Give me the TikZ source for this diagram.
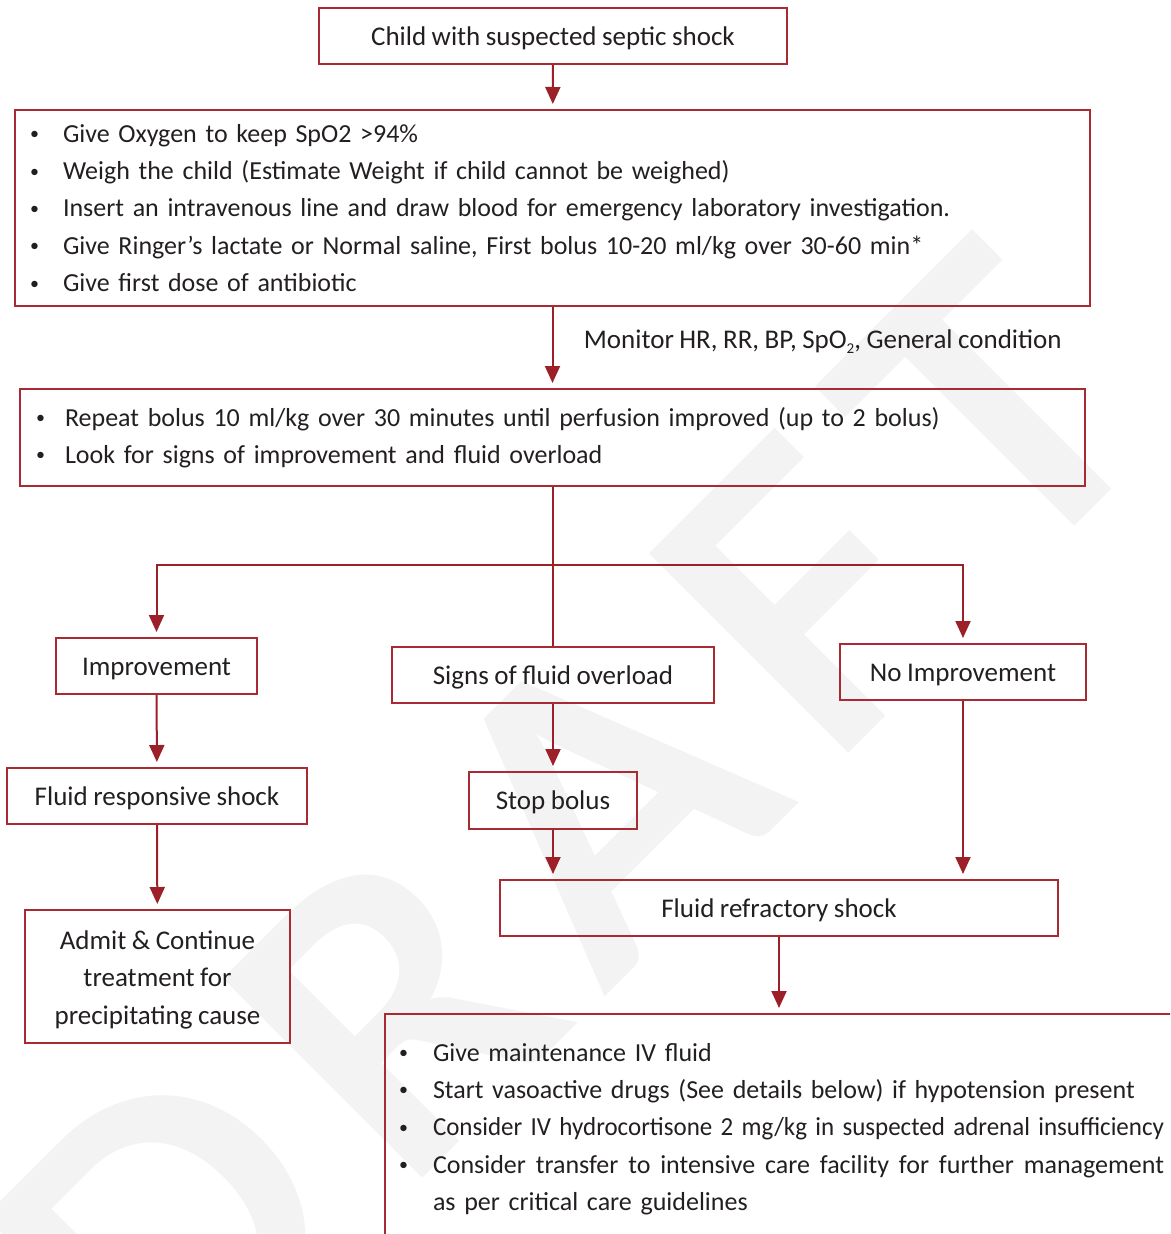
\documentclass[tikz,border=0pt]{standalone}
\usepackage{fontspec}
\usepackage{graphicx}
\setmainfont{Carlito}[WordSpace=0.9]
\newfontfamily\wmfont{Lato}
\usetikzlibrary{arrows.meta}

\definecolor{boxred}{RGB}{168,42,50}
\definecolor{arrred}{RGB}{155,32,40}
\definecolor{ink}{RGB}{35,31,32}
\definecolor{wmgray}{RGB}{243,243,243}

% small bullet followed by a fixed gap before the item text
\newcommand\listdot[1][33pt]{\makebox[#1][l]{\raisebox{2.5pt}{\fontsize{18}{18}\selectfont •}}}
\newcommand\listfont{\fontsize{26}{37.4}\selectfont}

\begin{document}
\begin{tikzpicture}[x=1pt,y=-1pt,
  every node/.style={text=ink, font=\fontsize{27}{37.4}\selectfont},
  box/.style={draw=boxred, line width=2pt, rectangle, inner sep=0pt},
  onebox/.style={box, text height=21pt, text depth=3pt},
  listbox/.style={box, align=left, font=\listfont},
  link/.style={draw=arrred, line width=2pt},
  arr/.style={link, -{Triangle[width=15pt,length=17pt]}, shorten >=5pt},
]
\useasboundingbox (0,0) rectangle (1170,1234);
\clip (0,0) rectangle (1170,1234);

% watermark
\node[text=wmgray, font=\wmfont\bfseries\fontsize{390}{390}\selectfont, rotate=45]
  (wmark) at (569.5,832.5) {D\kern40pt R\kern40pt A\kern40pt F\kern40pt T};

% boxes
\node[onebox, minimum width=468, minimum height=56] (start) at (553,36)
  {Child with suspected septic shock};

\node[listbox, minimum width=1075, minimum height=196, text width=1045pt,
      inner xsep=15pt] (first) at (552.5,208)
  {\listdot Give Oxygen to keep SpO2 >94\%\\
   \listdot Weigh the child (Estimate Weight if child cannot be weighed)\\
   \listdot Insert an intravenous line and draw blood for emergency laboratory investigation.\\
   \listdot Give Ringer’s lactate or Normal saline, First bolus 10-20 ml/kg over 30-60 min*\\
   \listdot Give first dose of antibiotic};

\node[listbox, minimum width=1065, minimum height=97, text width=1033pt,
      inner xsep=16pt] (repeat) at (552.5,437.5)
  {\listdot[29pt]Repeat bolus 10 ml/kg over 30 minutes until perfusion improved (up to 2 bolus)\\
   \listdot[29pt]Look for signs of improvement and fluid overload};

\node[onebox, minimum width=201, minimum height=56] (improve) at (156.5,666) {Improvement};
\node[onebox, minimum width=322, minimum height=56] (signs) at (553,675) {Signs of fluid overload};
\node[onebox, minimum width=246, minimum height=56] (noimp) at (963,672) {No Improvement};
\node[onebox, minimum width=300, minimum height=56] (resp) at (157,796) {Fluid responsive shock};
\node[onebox, minimum width=168, minimum height=57] (stop) at (553,800.5) {Stop bolus};
\node[onebox, minimum width=558, minimum height=56] (refr) at (779,908) {Fluid refractory shock};

\node[box, minimum width=265, minimum height=133, align=center] (admit) at (157.5,976.5)
  {\rule{0pt}{25pt}Admit \& Continue\\ treatment for\\ precipitating cause};

\node[listbox, anchor=north west, minimum width=798, minimum height=230, text width=770pt,
      inner xsep=14pt] (manage) at (384,1013)
  {\listdot[34pt]Give maintenance IV fluid\\
   \listdot[34pt]Start vasoactive drugs (See details below) if hypotension present\\
   \listdot[34pt]\resizebox{731pt}{\height}{Consider IV hydrocortisone 2 mg/kg in suspected adrenal insufficiency}\\
   \listdot[34pt]\hbox to 731pt{\spaceskip=0.2em plus 1em\relax Consider transfer to intensive care facility for further management}\\
   \hspace*{34pt}as per critical care guidelines};

% connectors
\draw[arr] (start) -- (first);
\draw[arr] (first) -- node[anchor=west, xshift=27pt, yshift=6pt] (monitor)
  {Monitor HR, RR, BP, SpO\raisebox{-5pt}{\fontsize{15}{15}\selectfont 2}, General condition} (repeat);

\coordinate (split) at (552.5,565);
\draw[link] (repeat.south) -- (repeat.south |- signs.north);
\draw[arr] (split) -| (improve);
\draw[arr] (split) -| (noimp);

\draw[arr] (improve) -- (resp);
\draw[arr] (resp) -- (admit);
\draw[arr] (signs) -- (stop);
\draw[arr] (stop.south) -- (stop.south |- refr.north);
\draw[arr] (noimp.south) -- (noimp.south |- refr.north);
\draw[arr] (refr.south) -- (refr.south |- manage.north);
\end{tikzpicture}
\end{document}
